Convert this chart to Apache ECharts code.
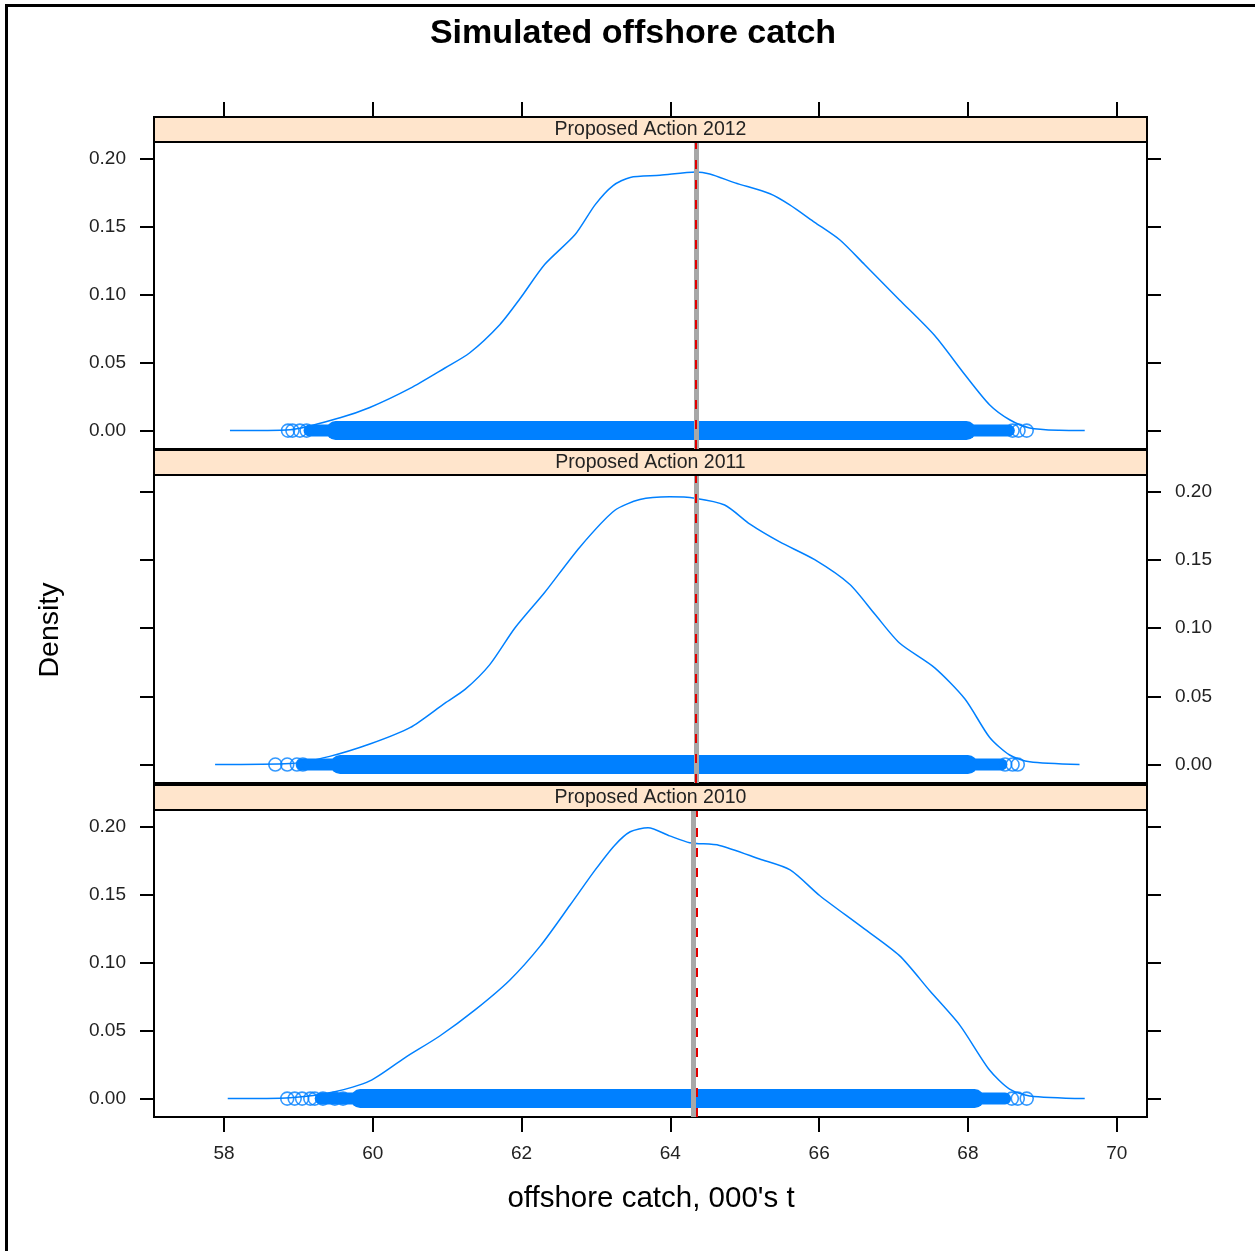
<!DOCTYPE html>
<html>
<head>
<meta charset="utf-8">
<script src="https://cdn.jsdelivr.net/npm/echarts@6/dist/echarts.min.js"></script>
<style>
html,body{margin:0;padding:0;background:#fff;}
#chart{width:1255px;height:1251px;}
</style>
</head>
<body>
<div id="chart"></div>
<script>
// ---------- data ----------
const chartTitle = 'Simulated offshore catch';
const xTitle = "offshore catch, 000's t";
const yTitle = 'Density';
const panelNames = ['Proposed Action 2012', 'Proposed Action 2011', 'Proposed Action 2010'];
const xTicks = [58, 60, 62, 64, 66, 68, 70];
const yTicks = [0, 0.05, 0.10, 0.15, 0.20];

const density2012 = [[58.08,0],[58.89,0.0007],[59.56,0.0095],[59.96,0.017],[60.5,0.031],[60.97,0.046],[61.3,0.057],[61.71,0.078],[61.98,0.097],[62.31,0.122],[62.72,0.144],[62.99,0.166],[63.23,0.180],[63.46,0.186],[63.86,0.1875],[64.34,0.19],[64.53,0.1885],[64.87,0.182],[65.34,0.174],[65.6,0.166],[65.94,0.153],[66.28,0.14],[66.61,0.122],[67.08,0.096],[67.55,0.070],[67.96,0.041],[68.29,0.019],[68.56,0.008],[68.83,0.002],[69.23,0.0002],[69.57,0]];
const density2011 = [[57.88,0],[58.89,0.0007],[59.42,0.006],[59.96,0.015],[60.5,0.027],[60.97,0.045],[61.24,0.055],[61.57,0.073],[61.91,0.100],[62.31,0.126],[62.78,0.159],[63.25,0.186],[63.59,0.194],[63.99,0.196],[64.33,0.195],[64.73,0.190],[65.07,0.176],[65.47,0.163],[65.94,0.150],[66.41,0.132],[66.75,0.110],[67.08,0.089],[67.55,0.071],[67.96,0.048],[68.29,0.020],[68.56,0.007],[68.83,0.002],[69.5,0]];
const density2010 = [[58.05,0],[58.89,0.0007],[59.49,0.005],[59.96,0.013],[60.43,0.030],[60.9,0.046],[61.37,0.065],[61.84,0.087],[62.25,0.112],[62.65,0.142],[62.99,0.168],[63.25,0.186],[63.46,0.196],[63.70,0.199],[63.99,0.193],[64.26,0.188],[64.66,0.186],[65.20,0.176],[65.61,0.168],[66.01,0.149],[66.55,0.127],[67.08,0.105],[67.49,0.079],[67.89,0.054],[68.29,0.021],[68.56,0.007],[68.83,0.002],[69.57,0]];

// rug: individually visible tail points, plus extent of the dense (overlapping) run of points
const rugTails2012 = [58.86, 58.92, 59.02, 59.11, 68.6, 68.68, 68.79];
const rugTails2011 = [58.69, 58.85, 58.98, 59.06, 68.5, 68.6, 68.67];
const rugTails2010 = [58.85, 58.95, 59.05, 59.16, 59.22, 59.33, 59.49, 59.6, 68.59, 68.67, 68.79];
const rugSpan2012 = [59.15, 68.55];
const rugSpan2011 = [59.05, 68.45];
const rugSpan2010 = [59.3, 68.5];
const rugCore2012 = [59.5, 67.98];
const rugCore2011 = [59.56, 68.0];
const rugCore2010 = [59.83, 68.09];

// vertical reference lines (grey solid, red dashed)
const greyLine = [64.349, 64.349, 64.315];
const redLine = [64.343, 64.343, 64.356];

// ---------- layout ----------
const densities = [density2012, density2011, density2010];
const rugTails = [rugTails2012, rugTails2011, rugTails2010];
const rugSpans = [rugSpan2012, rugSpan2011, rugSpan2010];
const rugCores = [rugCore2012, rugCore2011, rugCore2010];

const PL = 154, PW = 993;
const gridTops = [142, 475, 810];
const gridHeights = [307, 308, 307];
const STRIP = 25;
const XMIN = 57.059, XMAX = 70.407;
const YMIN = -0.0135, YMAX = 0.212;
const BLUE = '#0080ff';
const FONT = '"Liberation Sans", Arial, sans-serif';

const grids = [], xAxes = [], yAxes = [], series = [], graphics = [];

graphics.push({type:'rect', silent:true, z:-1, shape:{x:6.5, y:5.5, width:1400, height:1400}, style:{fill:'none', stroke:'#000', lineWidth:3}});
graphics.push({type:'text', silent:true, x:633, y:34, style:{text:chartTitle, font:'bold 34px ' + FONT, fill:'#000', align:'center', verticalAlign:'middle'}});
graphics.push({type:'text', silent:true, x:651, y:1199, style:{text:xTitle, font:'29.5px ' + FONT, fill:'#000', align:'center', verticalAlign:'middle'}});
graphics.push({type:'text', silent:true, x:50, y:630, rotation:Math.PI/2, style:{text:yTitle, font:'28.5px ' + FONT, fill:'#000', align:'center', verticalAlign:'middle'}});

for (let i = 0; i < 3; i++) {
  grids.push({left:PL, width:PW, top:gridTops[i], height:gridHeights[i], show:true, borderColor:'#000', borderWidth:2, backgroundColor:'#fff'});
  // strip
  graphics.push({type:'rect', silent:true, z:10, shape:{x:PL, y:gridTops[i]-STRIP, width:PW, height:STRIP}, style:{fill:'#ffe5cc', stroke:'#000', lineWidth:2}});
  graphics.push({type:'text', silent:true, z:11, x:PL+PW/2, y:gridTops[i]-STRIP/2+0.5, style:{text:panelNames[i], font:'19.5px ' + FONT, fill:'#222', align:'center', verticalAlign:'middle'}});

  const xa = {type:'value', gridIndex:i, min:XMIN, max:XMAX, splitLine:{show:false},
    axisLine:{show:false, onZero:false},
    axisTick:{show:false, customValues:xTicks, length:15, lineStyle:{color:'#000', width:2}},
    axisLabel:{show:false, customValues:xTicks}};
  if (i === 0) { xa.position = 'top'; xa.offset = STRIP; xa.axisTick.show = true; }
  if (i === 2) {
    xa.position = 'bottom'; xa.axisTick.show = true;
    xa.axisLabel = {show:true, customValues:xTicks, margin:27, fontSize:19, fontFamily:FONT, color:'#222', formatter:v => String(v)};
  }
  xAxes.push(xa);

  ['left','right'].forEach(pos => {
    const showLab = (pos === 'left') ? (i !== 1) : (i === 1);
    yAxes.push({type:'value', gridIndex:i, position:pos, min:YMIN, max:YMAX, splitLine:{show:false},
      axisLine:{show:false, onZero:false},
      axisTick:{show:true, customValues:yTicks, length:14, lineStyle:{color:'#000', width:2}},
      axisLabel:{show:showLab, customValues:yTicks, margin:28, fontSize:19, fontFamily:FONT, color:'#222', formatter:v => v.toFixed(2)}});
  });

  const yi = i * 2;
  series.push({type:'line', xAxisIndex:i, yAxisIndex:yi, data:[[rugSpans[i][0],0],[rugSpans[i][1],0]], symbol:'none', silent:true,
    lineStyle:{color:BLUE, width:12, cap:'round'}, z:2});
  series.push({type:'line', xAxisIndex:i, yAxisIndex:yi, data:[[rugCores[i][0],0],[rugCores[i][1],0]], symbol:'none', silent:true,
    lineStyle:{color:BLUE, width:19, cap:'round'}, z:2});
  series.push({type:'scatter', xAxisIndex:i, yAxisIndex:yi, data:rugTails[i].map(v => [v, 0]), symbol:'circle', symbolSize:13, silent:true,
    itemStyle:{color:'rgba(0,0,0,0)', borderColor:BLUE, borderWidth:1.6}, z:3});
  series.push({type:'line', xAxisIndex:i, yAxisIndex:yi, data:densities[i], symbol:'none', smooth:0.25, silent:true,
    lineStyle:{color:BLUE, width:1.5}, z:4,
    markLine:{silent:true, symbol:'none', label:{show:false}, z:5,
      data:[
        {xAxis:greyLine[i], lineStyle:{color:'#a8a8a8', width:5, type:'solid'}},
        {xAxis:redLine[i], lineStyle:{color:'#e00000', width:2, type:[9,11]}}
      ]}});
}

const chart = echarts.init(document.getElementById('chart'), null, {renderer:'canvas'});
chart.setOption({
  animation:false,
  backgroundColor:'#fff',
  grid:grids, xAxis:xAxes, yAxis:yAxes, series:series, graphic:graphics
});
</script>
</body>
</html>
